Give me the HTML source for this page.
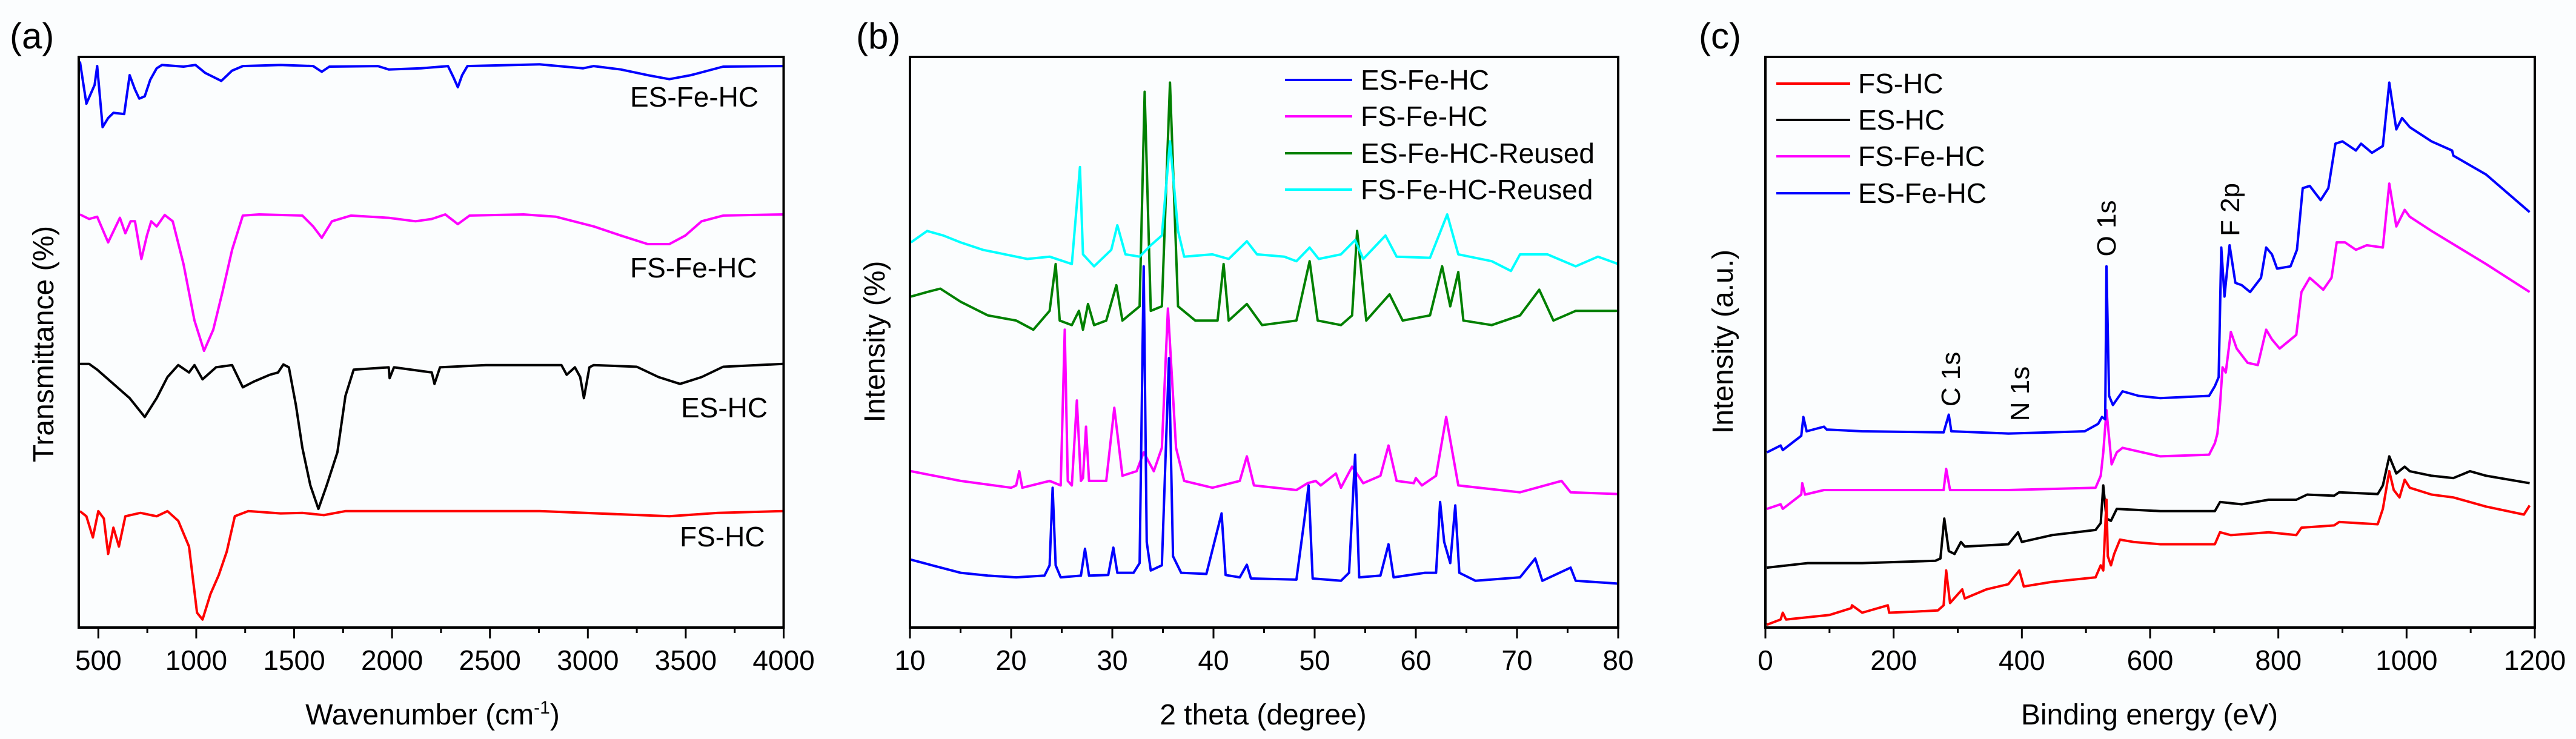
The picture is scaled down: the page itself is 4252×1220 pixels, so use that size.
<!DOCTYPE html>
<html><head><meta charset="utf-8"><style>
html,body{margin:0;padding:0;background:#fbfdfe;}
svg{display:block;font-family:"Liberation Sans",Arial,sans-serif;}
</style></head><body>
<svg id="fig" width="4252" height="1220" viewBox="0 0 4252 1220"></svg>
<script>
// ===== Panel (a) FTIR =====
const a_esfe = [[406,99.2],[439,91.8],[481,95.1],[494,98.4],[522,87.7],[550,89.3],[577,90.2],[632,90],[660,96.8],[687,94.3],[709,92.7],[737,93.1],[765,96],[798,98],[825,98.6],[935,98.3],[996,98.6],[1046,97.2],[1128,95.8],[1183,97.6],[1238,98.4],[1431,98.6],[1597,98.4],[1641,97.4],[1680,98.3],[1928,98.4],[1983,97.8],[2148,98],[2286,98.4],[2314,96.4],[2336,94.7],[2358,96.8],[2385,98.4],[2754,98.7],[2975,98],[3030,98.4],[3168,97.8],[3306,96.8],[3416,96.1],[3526,96.8],[3691,98.3],[3995,98.4]];
const a_fsfe = [[406,72.4],[453,71.6],[494,72],[550,67.5],[610,71.8],[638,69.1],[665,71.2],[687,71.2],[720,64.6],[748,68.7],[770,71.2],[798,70.3],[839,72.3],[880,71.2],[935,63.7],[991,53.8],[1040,48.5],[1087,52.2],[1134,58.8],[1183,66.2],[1238,72.2],[1321,72.4],[1542,72.2],[1597,70.3],[1641,68.3],[1693,71.2],[1790,72.2],[1983,71.8],[2120,71.2],[2203,71.6],[2272,72.4],[2336,70.7],[2396,72.2],[2672,72.4],[2837,72],[3030,70.3],[3168,68.7],[3306,67.2],[3416,67.2],[3498,68.7],[3581,71.2],[3691,72.2],[3995,72.4]];
const a_es = [[406,46.2],[453,46.2],[494,45.2],[577,42.7],[660,40.2],[737,36.9],[798,40.2],[853,43.9],[908,46],[963,44.7],[991,46],[1032,43.5],[1101,45.6],[1183,46],[1238,42.1],[1294,43.1],[1376,44.3],[1418,44.7],[1445,46.1],[1473,45.6],[1509,39],[1542,31.5],[1583,24.9],[1624,20.8],[1666,24.9],[1721,30.7],[1762,40.6],[1804,45.2],[1983,45.6],[1988,43.7],[2010,45.6],[2203,44.7],[2217,42.7],[2245,45.6],[2479,46],[2865,46],[2892,44.3],[2934,45.6],[2961,43.9],[2980,40.2],[3008,45.6],[3030,46],[3250,45.7],[3361,43.9],[3471,42.7],[3581,43.9],[3691,45.7],[3995,46.2]];
const a_fs = [[406,20.4],[439,19.5],[472,15.8],[500,20.4],[528,19.1],[550,12.9],[577,17.5],[605,14.2],[638,19.5],[715,20.1],[798,19.5],[853,20.4],[908,18.7],[963,14.2],[1004,2.6],[1032,1.4],[1073,5.9],[1115,9.2],[1156,13.3],[1197,19.5],[1266,20.4],[1431,20],[1542,20.1],[1652,19.7],[1762,20.4],[2754,20.4],[3416,19.5],[3664,20.1],[3995,20.4]];
const a_ticks = [500,1000,1500,2000,2500,3000,3500,4000];

// ===== Panel (b) XRD =====
const b_esfe = [[10.1,11.9],[12.2,10.9],[15,9.6],[17.7,9.1],[20.5,8.8],[23.3,9.1],[23.8,10.9],[24.1,24.5],[24.4,10.9],[24.9,8.8],[26.9,9.1],[27.3,13.8],[27.7,9.1],[29.6,9.2],[30.1,14],[30.5,9.6],[32.1,9.6],[32.7,11.3],[33.1,63.3],[33.4,15],[33.8,10],[34.9,10.9],[35.6,47.2],[36,12.5],[36.8,9.6],[39.3,9.4],[40.8,20],[41.2,9.2],[42.6,8.8],[43.3,11],[43.7,8.6],[48.2,8.4],[49,19.1],[49.4,24.9],[49.8,8.6],[52.6,8.2],[53.4,9.6],[54,30.3],[54.4,8.8],[56.5,9.1],[57.3,14.6],[57.8,8.8],[60.9,9.6],[62,9.6],[62.4,22],[62.8,15],[63.4,11.3],[63.9,21.4],[64.3,9.6],[65.9,8.2],[70.3,8.8],[71.8,12.1],[72.5,8.2],[75.3,10.5],[75.8,8.2],[80,7.7]];
const b_fsfe = [[10.1,27.4],[15,25.7],[20,24.5],[20.5,24.9],[20.8,27.4],[21.1,24.5],[23.8,25.7],[24.9,24.9],[25.3,52.2],[25.6,25.7],[26,24.9],[26.5,39.8],[26.9,25.7],[27.1,26.2],[27.4,35.2],[27.7,25.7],[29.4,25.7],[30.2,38.5],[31,26.6],[32.4,27.4],[33.1,30.7],[34.1,27.4],[34.9,31.5],[35.5,55.9],[36.3,31.5],[37.1,25.7],[39.9,24.5],[42.6,25.7],[43.3,30],[44,24.9],[48.2,24.1],[49.3,25.3],[50.1,25.7],[50.6,24.9],[52.1,27],[52.6,24.5],[53.7,28.2],[54.8,25.3],[56.5,26.6],[57.3,31.9],[58.1,25.7],[59.8,25.3],[60,26.2],[60.6,24.9],[62,26.6],[63,36.9],[64.2,24.9],[70.3,23.7],[74.4,25.7],[75.3,23.7],[80,23.4]];
const b_esre = [[10.1,58],[11.7,58.8],[13,59.4],[15,57.1],[17.7,54.7],[20.5,53.8],[22.2,52.2],[23.8,55.5],[24.4,63.7],[24.8,53.8],[26,53],[26.7,55.5],[27.1,52.2],[27.6,56.7],[28.2,53],[29.4,53.8],[30.4,60],[31,53.8],[32.7,56.3],[33.2,93.9],[33.8,55.5],[34.9,56.3],[35.7,95.5],[36.5,56.3],[38.2,53.8],[40.4,53.8],[41,63.7],[41.5,53.8],[43.3,56.7],[44.8,53],[48.2,53.8],[49.5,64.2],[50.3,53.8],[52.6,53],[53.7,54.7],[54.2,69.5],[55.1,53.8],[57.4,58.4],[58.7,53.8],[61.4,54.7],[62.6,63.3],[63.4,56.3],[64.2,62.3],[64.7,53.8],[67.5,53],[70.3,54.7],[72.2,59.2],[73.6,53.8],[75.8,55.5],[80,55.5]];
const b_fsre = [[10.1,67.5],[11.7,69.5],[13.3,68.7],[15,67.5],[17.2,66.2],[19.4,65.4],[21.6,64.6],[23.8,65],[26,63.7],[26.8,80.7],[27.1,65.4],[28.2,63.3],[29.9,66.2],[30.5,70.5],[31.3,65.4],[32.7,65],[33.8,67],[34.9,68.7],[35.7,85.2],[36.5,69.5],[37.1,65],[39.9,65.4],[41.5,64.6],[43.3,67.7],[44.3,65.4],[47,65],[48.2,64.2],[49.5,66.6],[50.4,64.6],[52.6,65.4],[54,67.9],[54.8,64.6],[57,68.7],[58.1,65],[61.4,64.8],[63.1,72.4],[64.2,65.4],[67.5,64.2],[69.4,62.5],[70.3,65.4],[73,65.4],[75.8,63.3],[78,65],[80,63.7]];
const b_ticks = [10,20,30,40,50,60,70,80];

// ===== Panel (c) XPS =====
const c_fs = [[2.5,0.5],[23.7,1.4],[27.1,2.6],[32.2,1.4],[66,1.8],[99.9,2.2],[134,3.4],[135,3.9],[151,2.6],[191,3.9],[193,2.6],[235,2.8],[269,3],[278,3.9],[282,10],[288,4.3],[307,6.7],[311,5.1],[345,6.7],[379,7.6],[396,10],[403,7.2],[447,8],[498,8.6],[515,8.8],[523,10.9],[527,10],[532,22.4],[534,12.5],[539,10.9],[544,12.9],[553,15.4],[574,15],[616,14.6],[701,14.6],[709,16.7],[726,16.2],[785,16.7],[828,16.2],[836,17.5],[887,17.9],[895,18.5],[955,18.1],[963,20.8],[973,27.4],[980,24.1],[989,22.8],[997,25.9],[1005,24.5],[1039,23.3],[1073,22.8],[1124,21.2],[1183,19.8],[1192,21.4]];
const c_es = [[2.5,10.5],[66,11.3],[151,11.3],[265,11.7],[273,12.1],[279,19.1],[286,13.4],[295,12.9],[305,15],[311,14.2],[379,14.6],[394,16.7],[400,15],[447,16.2],[515,17.1],[523,18.3],[527,24.9],[532,19.1],[539,18.7],[548,20.8],[616,20.4],[701,20.4],[709,22],[743,21.6],[785,22.4],[828,22.4],[845,23.3],[887,23.1],[895,23.7],[955,23.4],[963,24.9],[973,30],[984,27],[997,28.2],[1005,27.4],[1039,26.6],[1073,26.2],[1099,27.4],[1124,26.6],[1192,25.3]];
const c_fsfe = [[2.5,20.8],[23.7,21.6],[27.1,20.8],[55.9,23.3],[57.5,25.3],[61.8,23.3],[91.4,24.1],[151,24.1],[278,24.1],[282,27.8],[288,24.1],[379,24.1],[515,24.5],[523,26.6],[527,30.7],[532,38.1],[540,28.6],[548,30.7],[557,31.5],[616,30],[692,30.3],[701,32.3],[705,34],[709,39],[713,45.6],[718,44.7],[726,51.8],[735,48.9],[752,46.4],[768,46],[781,52.2],[790,50.5],[802,48.9],[828,51.3],[836,58.8],[849,61.3],[862,60],[870,59.2],[883,61.3],[891,67.5],[904,67.5],[921,66.2],[938,67],[963,66.6],[973,77.8],[984,70.3],[997,73.2],[1005,72],[1039,69.5],[1124,63.7],[1192,58.8]];
const c_esfe = [[2.5,30.7],[23.7,31.9],[27.1,31.1],[55.9,33.6],[59.2,36.9],[64.3,34.4],[91.4,35.2],[95.6,34.7],[151,34.4],[278,34.2],[286,37.3],[290,34.4],[379,34],[498,34.4],[519,35.7],[525,36.9],[530,36.5],[532,63.3],[536,40.6],[542,39],[557,41.4],[582,40.6],[616,40.2],[692,40.6],[701,42.3],[707,43.9],[711,66.6],[716,58],[724,67],[733,60.4],[743,60],[756,58.8],[773,61.3],[781,66.6],[790,65.4],[798,62.9],[819,63.3],[829,66.2],[838,77],[849,77.4],[866,74.9],[878,77],[889,84.8],[900,85.2],[921,83.6],[929,84.8],[946,83.2],[963,84.4],[973,95.5],[984,87.3],[993,89.3],[1005,87.7],[1039,85.2],[1071,83.6],[1073,82.7],[1124,79.4],[1192,72.8]];
const c_ticks = [0,200,400,600,800,1000,1200];

const NS = "http://www.w3.org/2000/svg";
const svg = document.getElementById('fig');
const Y0 = 1036, Y1 = 94;
function mk(tag, attrs, parent){const e=document.createElementNS(NS,tag);for(const k in attrs)e.setAttribute(k,attrs[k]);(parent||svg).appendChild(e);return e;}
function yS(v){return Y0-(v/100)*(Y0-Y1);}

function panel(cfg){
  const g = mk('g',{});
  
  
  const xS = v => cfg.x0 + (v-cfg.min)/(cfg.max-cfg.min)*(cfg.x1-cfg.x0);
  cfg.series.forEach(s=>{
    const p = mk('polyline',{points:s.data.map(d=>xS(d[0]).toFixed(1)+','+yS(d[1]).toFixed(1)).join(' '),fill:'none',stroke:s.color,'stroke-width':4,'stroke-linejoin':'round'},g);
    
    
  });
  const fr = mk('rect',{x:cfg.x0,y:Y1,width:cfg.x1-cfg.x0,height:Y0-Y1,fill:'none',stroke:'#000','stroke-width':4},g);
  
  
  const t = cfg.ticks;
  for(let i=0;i<t.length;i++){
    const x = xS(t[i]);
    const tk = mk('line',{x1:x,x2:x,y1:Y0,y2:Y0+18,stroke:'#000','stroke-width':3},g);
    
    
    const lb = mk('text',{x:x,y:1106,'font-size':46,'text-anchor':'middle',fill:'#000'},g);
    lb.textContent = t[i];
    
    
    if(i<t.length-1){
      const xm = xS((t[i]+t[i+1])/2);
      const mt = mk('line',{x1:xm,x2:xm,y1:Y0,y2:Y0+9,stroke:'#000','stroke-width':3},g);
      
      
    }
  }
  return xS;
}

panel({name:'panel-a-ftir',x0:130,x1:1293.5,min:400,max:4000,ticks:a_ticks,series:[
  {id:'es-fe-hc-line',color:'#0000ff',data:a_esfe},{id:'fs-fe-hc-line',color:'#ff00ff',data:a_fsfe},
  {id:'es-hc-line',color:'#000000',data:a_es},{id:'fs-hc-line',color:'#ff0000',data:a_fs}]});
panel({name:'panel-b-xrd',x0:1502,x1:2671,min:10,max:80,ticks:b_ticks,series:[
  {id:'es-fe-hc-reused-line',color:'#008000',data:b_esre},{id:'fs-fe-hc-reused-line',color:'#00ffff',data:b_fsre},
  {id:'fs-fe-hc-line',color:'#ff00ff',data:b_fsfe},{id:'es-fe-hc-line',color:'#0000ff',data:b_esfe}]});
panel({name:'panel-c-xps',x0:2914,x1:4184,min:0,max:1200,ticks:c_ticks,series:[
  {id:'es-hc-line',color:'#000000',data:c_es},{id:'fs-hc-line',color:'#ff0000',data:c_fs},
  {id:'fs-fe-hc-line',color:'#ff00ff',data:c_fsfe},{id:'es-fe-hc-line',color:'#0000ff',data:c_esfe}]});
</script>
<svg style="position:absolute;left:0;top:0" width="4252" height="1220" viewBox="0 0 4252 1220" font-family="Liberation Sans, Arial, sans-serif" fill="#000">
  <text x="16" y="80" font-size="60">(a)</text>
  <text x="1413" y="80" font-size="60">(b)</text>
  <text x="2804" y="80" font-size="60">(c)</text>

  <text x="1040" y="176" font-size="46">ES-Fe-HC</text>
  <text x="1040" y="458" font-size="46">FS-Fe-HC</text>
  <text x="1124" y="689" font-size="46">ES-HC</text>
  <text x="1122" y="902" font-size="46">FS-HC</text>

  <text transform="translate(88,568) rotate(-90)" font-size="48" text-anchor="middle">Transmittance (%)</text>
  <text x="714" y="1196" font-size="48" text-anchor="middle">Wavenumber (cm<tspan font-size="30" dy="-18">-1</tspan><tspan dy="18">)</tspan></text>

  <text transform="translate(1460,564) rotate(-90)" font-size="48" text-anchor="middle">Intensity (%)</text>
  <text x="2085" y="1196" font-size="48" text-anchor="middle">2 theta (degree)</text>

  <text transform="translate(2860,564) rotate(-90)" font-size="48" text-anchor="middle">Intensity (a.u.)</text>
  <text x="3548" y="1196" font-size="48" text-anchor="middle">Binding energy (eV)</text>

  <g font-size="46">
    <line x1="2121" x2="2232" y1="132" y2="132" stroke="#0000ff" stroke-width="4"/><text x="2246" y="148">ES-Fe-HC</text>
    <line x1="2121" x2="2232" y1="192" y2="192" stroke="#ff00ff" stroke-width="4"/><text x="2246" y="208">FS-Fe-HC</text>
    <line x1="2121" x2="2232" y1="253" y2="253" stroke="#008000" stroke-width="4"/><text x="2246" y="269">ES-Fe-HC-Reused</text>
    <line x1="2121" x2="2232" y1="313" y2="313" stroke="#00ffff" stroke-width="4"/><text x="2246" y="329">FS-Fe-HC-Reused</text>
  </g>
  <g font-size="46">
    <line x1="2932" x2="3054" y1="138" y2="138" stroke="#ff0000" stroke-width="4"/><text x="3067" y="154">FS-HC</text>
    <line x1="2932" x2="3054" y1="198" y2="198" stroke="#000000" stroke-width="4"/><text x="3067" y="214">ES-HC</text>
    <line x1="2932" x2="3054" y1="258" y2="258" stroke="#ff00ff" stroke-width="4"/><text x="3067" y="274">FS-Fe-HC</text>
    <line x1="2932" x2="3054" y1="319" y2="319" stroke="#0000ff" stroke-width="4"/><text x="3067" y="335">ES-Fe-HC</text>
  </g>
  <text transform="translate(3235,626) rotate(-90)" font-size="44" text-anchor="middle">C 1s</text>
  <text transform="translate(3349,650) rotate(-90)" font-size="44" text-anchor="middle">N 1s</text>
  <text transform="translate(3492,377) rotate(-90)" font-size="44" text-anchor="middle">O 1s</text>
  <text transform="translate(3696,346) rotate(-90)" font-size="44" text-anchor="middle">F 2p</text>
</svg>
</body></html>
